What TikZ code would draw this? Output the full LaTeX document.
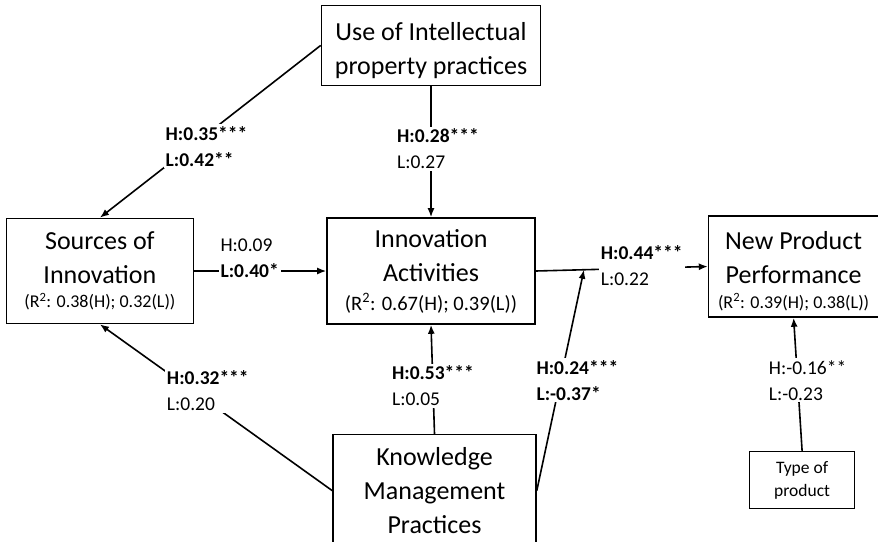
\documentclass[tikz,border=0pt]{standalone}
\usepackage{fontspec}
\setmainfont{Carlito}
\usetikzlibrary{arrows.meta, positioning, calc}
\newcommand*{\Rsq}{R\textsuperscript{2}}
\newcommand*{\rfont}{\fontsize{18}{22}\selectfont}
\tikzstyle{block} = [draw, rectangle, line width=1.6pt, inner sep=0pt, align=center, font=\fontsize{26}{34}\selectfont]
\tikzstyle{small} = [draw, rectangle, line width=1.6pt, inner sep=0pt, align=center, font=\fontsize{17.5}{23}\selectfont]
\tikzstyle{coef} = [fill=white, align=left, inner sep=2pt, font=\fontsize{19.5}{26}\selectfont]
\tikzstyle{path} = [-{Latex[length=9pt, width=7pt]}, line width=1.6pt]

\begin{document}
\begin{tikzpicture}[node distance=5mm]
    \useasboundingbox (0,0) rectangle (878pt,-541pt);
    \clip (0,0) rectangle (878pt,-541pt);

    % Constructs.
    \node (innov) [block, minimum width=208pt, minimum height=106pt] at (431pt,-271pt) {Innovation\\Activities\\[-5pt]{\fontsize{20.5}{24}\selectfont(\Rsq: 0.67(H); 0.39(L))}};
    \node (sources) [block, minimum width=187pt, minimum height=105pt, left=132pt of innov] {Sources of\\Innovation\\[-10pt]{\rfont(\Rsq: 0.38(H); 0.32(L))}};
    \node (product) [block, minimum width=170pt, minimum height=101pt, right=172pt of innov, yshift=4.5pt] {\rule{0pt}{27pt}New Product\\Performance\\[-9pt]{\rfont(\Rsq: 0.39(H); 0.38(L))}};
    \node (ipr) [block, minimum width=219pt, minimum height=80pt, above=131pt of innov] {\rule{0pt}{29pt}Use of Intellectual\\property practices};
    \node (knowledge) [block, minimum width=203pt, minimum height=112pt, below=109pt of innov, xshift=3.5pt] {Knowledge\\Management\\Practices};
    \node (type) [small, minimum width=105pt, minimum height=57pt, below=133pt of product, xshift=8.5pt] {Type of\\product};

    \coordinate (join) at ($(innov.east)!0.28!(product.west)$);

    % Paths.
    \draw [path] (ipr.west) -- node [coef, pos=0.585, xshift=15pt] {\textbf{H:0.35***}\\\textbf{L:0.42**}} (sources.north);
    \draw [path] (ipr.south) -- node [coef, pos=0.48, xshift=7pt] {\textbf{H:0.28***}\\L:0.27} (innov.north);
    \draw [path] (sources.east) -- node [coef, pos=0.42, yshift=12.5pt] {H:0.09\\\textbf{L:0.40*}} (innov.west);
    \draw [path] (innov.east) -- node [coef, pos=0.616, yshift=3pt] {\textbf{H:0.44***}\\L:0.22} (product.west);
    \draw [path] (knowledge.east) -- node [coef, pos=0.5, xshift=17pt] {\textbf{H:0.24***}\\\textbf{L:-0.37*}} (join);
    \draw [path] (knowledge.north) -- node [coef, pos=0.44] {\textbf{H:0.53***}\\L:0.05} (innov.south);
    \draw [path] (knowledge.west) -- node [coef, pos=0.6, xshift=15pt] {\textbf{H:0.32***}\\L:0.20} (sources.south);
    \draw [path] (type.north) -- node [coef, pos=0.53, xshift=10pt] {H:-0.16**\\L:-0.23} (product.south);
\end{tikzpicture}
\end{document}
